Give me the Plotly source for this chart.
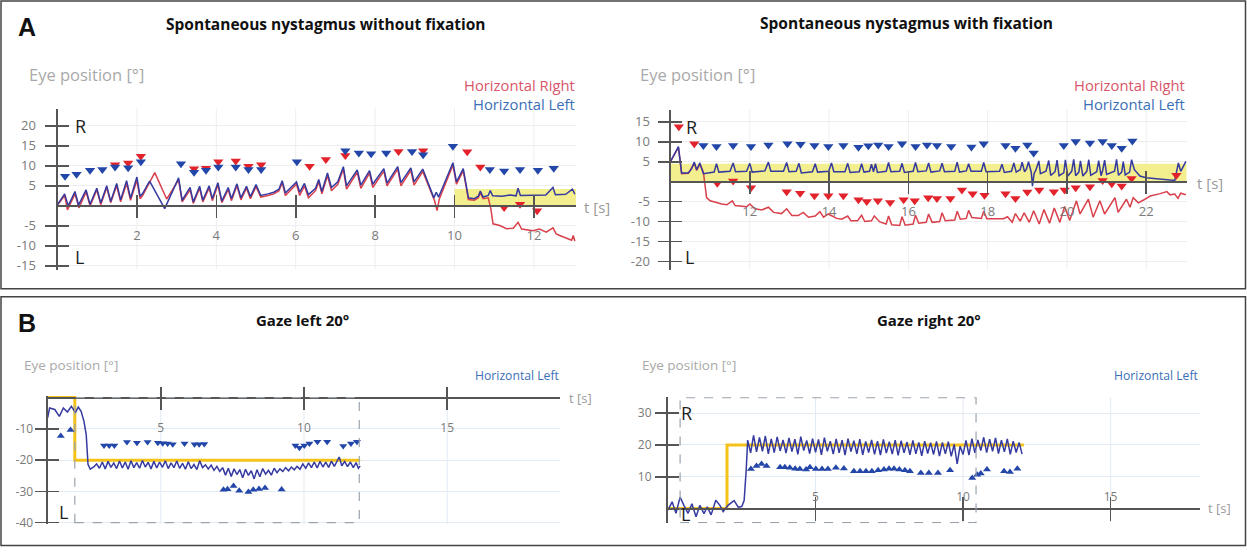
import plotly.graph_objects as go

W, H = 1247, 554

# ---------------- data: (time [s], eye position [deg]) ----------------
a1_right_line = [(0.00,0.2),(0.18,2.6),(0.25,-1.0),(0.44,3.0),(0.54,-0.5),(0.72,3.5),(0.82,0.0),(0.99,4.0),(1.09,0.3),(1.24,4.6),(1.34,0.8),(1.49,5.0),(1.59,1.0),(1.74,5.6),(1.84,1.4),(2.00,6.4),(2.08,1.8),(2.14,2.5),(2.45,8.3),(2.75,1.7),(3.05,6.5),(3.14,1.0),(3.34,4.0),(3.42,0.6),(3.58,4.4),(3.66,1.0),(3.82,4.5),(3.90,1.3),(4.04,5.2),(4.14,0.8),(4.30,4.1),(4.38,1.3),(4.52,5.0),(4.62,1.5),(4.76,4.4),(4.86,1.8),(5.00,4.8),(5.12,2.2),(5.30,2.6),(5.45,3.0),(5.58,3.8),(5.66,5.8),(5.74,2.6),(5.90,4.2),(6.02,5.4),(6.10,2.6),(6.22,5.0),(6.32,2.0),(6.50,3.8),(6.58,6.0),(6.66,3.0),(6.80,7.6),(6.90,3.8),(7.06,5.4),(7.20,9.2),(7.28,4.2),(7.55,8.4),(7.64,4.4),(7.86,8.2),(7.94,4.6),(8.22,8.7),(8.30,5.0),(8.57,9.2),(8.65,5.0),(8.90,8.9),(8.98,5.2),(9.20,8.6),(9.50,1.2),(9.56,-1.2),(9.62,1.8),(9.96,10.2),(10.05,5.4),(10.22,8.8),(10.35,1.6),(10.50,1.4),(10.60,2.0),(10.65,3.3),(10.72,1.8),(10.85,2.0),(10.92,-1.0),(10.97,-4.5),(11.14,-4.9),(11.31,-5.7),(11.48,-5.6),(11.60,-4.1),(11.69,-5.8),(11.98,-6.2),(12.14,-5.8),(12.31,-6.6),(12.48,-5.5),(12.56,-7.0),(12.65,-7.4),(12.82,-8.0),(12.95,-8.6),(12.99,-7.4),(13.03,-8.8)]
a1_left_line = [(0.00,0.3),(0.18,3.0),(0.27,0.0),(0.44,3.6),(0.53,0.2),(0.72,4.0),(0.82,0.4),(0.99,4.4),(1.09,0.7),(1.24,5.0),(1.34,1.1),(1.49,5.6),(1.59,1.5),(1.74,6.3),(1.84,1.9),(2.00,7.2),(2.08,2.4),(2.14,3.0),(2.32,6.2),(2.70,-0.7),(3.05,7.0),(3.14,1.4),(3.34,4.6),(3.42,1.0),(3.58,4.9),(3.66,1.4),(3.82,5.0),(3.90,1.8),(4.04,5.8),(4.14,1.2),(4.30,4.6),(4.38,1.8),(4.52,5.5),(4.62,2.0),(4.76,4.9),(4.86,2.3),(5.00,5.3),(5.12,2.6),(5.30,3.0),(5.45,3.4),(5.58,4.2),(5.66,6.3),(5.74,3.2),(5.90,4.8),(6.02,6.0),(6.10,3.4),(6.22,5.6),(6.32,2.8),(6.50,4.4),(6.58,6.6),(6.66,3.6),(6.80,8.2),(6.90,4.6),(7.06,6.0),(7.20,9.8),(7.28,5.0),(7.55,9.0),(7.64,5.2),(7.86,8.8),(7.94,5.4),(8.22,9.3),(8.30,5.7),(8.57,9.8),(8.65,5.8),(8.90,9.5),(8.98,6.0),(9.20,9.2),(9.48,2.0),(9.54,3.4),(9.60,2.2),(9.96,10.8),(10.05,6.0),(10.22,9.3),(10.35,2.0),(10.50,1.8),(10.60,2.4),(10.65,3.7),(10.72,2.2),(10.85,2.6),(10.90,3.8),(10.96,2.5),(11.20,2.4),(11.40,2.7),(11.55,2.5),(11.60,4.4),(11.66,2.6),(11.95,2.7),(12.05,2.6),(12.30,2.7),(12.48,4.6),(12.54,2.8),(12.80,2.9),(12.97,4.2),(13.03,2.9)]
a1_right_marks = [(1.45,10.3),(1.78,10.7),(2.10,12.4),(3.44,9.3),(3.74,9.4),(4.05,11.0),(4.49,11.2),(4.81,9.9),(5.13,10.3),(6.35,9.9),(6.76,11.6),(7.25,12.6),(8.59,13.6),(9.21,13.8),(10.32,13.5),(10.65,9.7),(11.25,-0.4),(11.65,0.4),(12.08,-1.2)]
a1_left_marks = [(0.19,7.4),(0.48,7.9),(0.82,8.9),(1.13,9.1),(1.45,9.7),(1.78,9.5),(2.10,11.0),(3.11,10.5),(3.44,8.4),(3.74,8.9),(4.05,9.7),(4.49,9.7),(4.81,9.1),(5.13,9.1),(6.03,11.0),(7.25,13.8),(7.59,13.2),(7.90,13.0),(8.28,13.2),(8.93,13.6),(9.21,12.8),(9.96,14.9),(10.89,9.1),(11.25,8.7),(11.65,9.1),(12.10,8.9),(12.50,9.4)]

a2_right_line = [(10.00,5.0),(10.20,8.6),(10.28,2.0),(10.45,2.1),(10.60,4.6),(10.66,2.8),(10.74,4.4),(10.83,2.4),(10.91,-4.0),(11.00,-4.8),(11.16,-5.2),(11.29,-5.6),(11.42,-5.8),(11.56,-4.8),(11.63,-6.0),(11.80,-6.1),(11.92,-6.3),(12.00,-5.6),(12.13,-6.8),(12.30,-7.1),(12.47,-6.4),(12.60,-7.7),(12.80,-8.0),(12.93,-6.8),(13.06,-8.5),(13.22,-8.5),(13.35,-7.7),(13.48,-8.9),(13.65,-8.6),(13.77,-7.5),(13.86,-8.9),(13.98,-8.1),(14.06,-8.5),(14.19,-9.2),(14.32,-9.4),(14.47,-8.6),(14.55,-9.8),(14.72,-9.8),(14.82,-8.4),(14.90,-10.0),(15.07,-9.8),(15.14,-8.6),(15.28,-10.1),(15.44,-10.6),(15.50,-8.6),(15.58,-10.8),(15.78,-11.0),(15.84,-8.8),(15.92,-10.9),(16.12,-10.6),(16.18,-8.4),(16.26,-10.4),(16.45,-10.2),(16.51,-8.1),(16.60,-10.2),(16.79,-10.0),(16.85,-7.8),(16.93,-9.8),(17.17,-9.6),(17.23,-7.4),(17.31,-9.4),(17.46,-9.2),(17.52,-7.2),(17.60,-9.0),(17.84,-9.2),(17.90,-7.4),(17.98,-9.3),(18.40,-9.3),(18.50,-8.8),(18.62,-10.2),(18.70,-8.0),(18.82,-9.9),(18.92,-7.8),(19.05,-10.2),(19.16,-7.3),(19.30,-10.6),(19.42,-7.0),(19.56,-10.4),(19.68,-6.6),(19.82,-10.2),(19.94,-6.2),(20.07,-9.7),(20.24,-4.8),(20.33,-8.1),(20.54,-4.4),(20.66,-8.9),(20.83,-4.8),(20.95,-8.1),(21.21,-4.0),(21.29,-7.7),(21.50,-4.4),(21.59,-6.4),(21.67,-4.0),(21.80,-5.3),(21.93,-4.6),(22.10,-3.6),(22.35,-3.0),(22.52,-2.5),(22.60,-3.3),(22.72,-3.1),(22.80,-4.2),(22.87,-2.9),(23.00,-3.3)]
a2_left_line = [(10.00,5.1),(10.20,8.8),(10.28,2.2),(10.45,2.2),(10.53,3.2),(10.60,4.9),(10.66,3.0),(10.74,4.7),(10.83,2.0),(10.95,2.2),(11.10,2.4),(11.16,4.5),(11.22,2.4),(11.50,2.6),(11.58,4.7),(11.64,2.5),(11.92,2.6),(12.00,4.6),(12.06,2.4),(12.38,2.7),(12.47,4.9),(12.53,2.6),(12.85,2.6),(12.93,4.8),(12.99,2.5),(13.17,2.6),(13.24,4.6),(13.30,2.2),(13.58,2.5),(13.65,4.5),(13.71,2.4),(13.99,2.6),(14.06,4.7),(14.12,2.5),(14.40,2.5),(14.47,4.6),(14.53,2.3),(14.76,2.5),(14.82,4.5),(14.88,2.4),(15.02,2.6),(15.07,4.4),(15.12,2.5),(15.17,4.5),(15.22,2.3),(15.44,2.6),(15.50,4.8),(15.56,2.5),(15.78,2.6),(15.84,4.6),(15.90,2.3),(16.12,2.6),(16.18,4.8),(16.24,2.5),(16.45,2.7),(16.51,4.7),(16.57,2.4),(16.79,2.7),(16.85,4.6),(16.91,2.5),(17.17,2.6),(17.23,4.9),(17.29,2.4),(17.46,2.7),(17.52,4.5),(17.58,2.6),(17.84,2.6),(17.90,4.8),(17.96,2.5),(18.30,2.6),(18.36,4.4),(18.42,2.3),(18.60,2.6),(18.66,4.7),(18.72,2.4),(18.82,3.0),(18.87,4.9),(18.93,2.5),(18.98,3.2),(19.03,5.0),(19.10,2.3),(19.13,-1.1),(19.17,2.0),(19.22,3.0),(19.29,5.2),(19.33,2.0),(19.47,2.6),(19.54,5.3),(19.59,1.6),(19.70,2.5),(19.75,5.4),(19.80,1.5),(19.92,2.2),(19.96,5.5),(20.02,1.4),(20.12,2.6),(20.17,5.6),(20.22,1.5),(20.30,2.4),(20.34,5.2),(20.40,1.4),(20.50,2.6),(20.55,5.5),(20.60,1.6),(20.75,2.5),(20.80,5.3),(20.86,1.5),(20.90,2.8),(20.95,5.4),(21.00,1.8),(21.20,2.6),(21.25,5.6),(21.30,1.6),(21.38,2.4),(21.42,5.0),(21.47,1.7),(21.58,2.4),(21.63,5.5),(21.70,3.0),(21.84,1.4),(22.00,1.0),(22.72,0.3),(22.81,4.7),(22.87,2.6),(23.00,5.1)]
a2_right_marks = [(10.21,13.8),(10.60,9.5),(11.18,-0.4),(11.58,0.2),(12.03,-1.5),(12.93,-2.5),(13.27,-2.9),(13.63,-3.5),(13.98,-3.5),(14.36,-3.5),(14.74,-4.5),(14.95,-5.0),(15.23,-4.8),(15.54,-5.2),(15.88,-4.5),(16.16,-4.8),(16.50,-4.0),(16.72,-4.2),(17.06,-4.2),(17.35,-2.1),(17.62,-3.0),(17.92,-3.4),(18.45,-3.0),(18.70,-4.2),(19.00,-2.6),(19.30,-2.1),(19.67,-2.5),(19.94,-2.1),(20.22,-1.5),(20.58,-1.3),(20.90,0.3),(21.13,-0.5),(21.38,-1.1),(21.63,0.8),(22.76,1.6)]
a2_left_marks = [(10.83,9.1),(11.16,8.8),(11.58,9.1),(12.03,8.8),(12.47,9.2),(12.95,9.5),(13.28,9.4),(13.63,9.1),(13.98,8.8),(14.36,9.1),(14.74,8.6),(14.99,9.0),(15.24,9.2),(15.50,8.8),(15.84,9.5),(16.18,8.8),(16.47,9.2),(16.72,9.1),(17.08,8.8),(17.59,8.7),(17.90,9.5),(18.45,9.1),(18.70,8.4),(19.00,9.2),(19.16,7.2),(19.92,9.1),(20.22,10.1),(20.58,9.7),(20.90,10.1),(21.13,9.1),(21.38,8.4),(21.65,10.2)]

b1_target = [(1.05,0.0),(2.00,0.0),(2.00,-20.0),(11.96,-20.0)]
b1_left_line = [(1.05,-6.5),(1.12,-3.3),(1.30,-3.8),(1.46,-6.0),(1.60,-3.3),(1.74,-4.6),(1.88,-2.8),(2.02,-4.8),(2.12,-3.0),(2.22,-4.4),(2.32,-7.6),(2.40,-12.0),(2.46,-21.3),(2.54,-22.9),(2.66,-22.2),(2.76,-21.2),(2.86,-22.6),(2.96,-20.6),(3.06,-22.8),(3.16,-20.4),(3.26,-22.3),(3.36,-20.9),(3.46,-22.7),(3.56,-20.3),(3.66,-22.5),(3.76,-20.6),(3.86,-22.9),(3.96,-20.2),(4.06,-22.4),(4.16,-20.8),(4.26,-22.6),(4.36,-20.1),(4.46,-22.2),(4.56,-20.7),(4.66,-22.8),(4.76,-20.4),(4.86,-22.5),(4.96,-20.6),(5.06,-22.3),(5.16,-20.2),(5.26,-22.7),(5.36,-20.9),(5.46,-22.4),(5.56,-20.3),(5.66,-22.6),(5.76,-21.0),(5.86,-22.9),(5.96,-20.5),(6.06,-22.7),(6.16,-21.4),(6.26,-23.0),(6.36,-20.2),(6.46,-22.4),(6.56,-21.5),(6.66,-22.8),(6.76,-21.6),(6.86,-23.3),(6.96,-22.0),(7.06,-23.6),(7.16,-22.4),(7.26,-24.8),(7.36,-22.6),(7.46,-25.2),(7.56,-22.8),(7.66,-24.6),(7.76,-23.0),(7.86,-25.6),(7.96,-22.9),(8.06,-24.9),(8.16,-23.4),(8.26,-26.0),(8.36,-23.1),(8.46,-25.3),(8.56,-22.7),(8.66,-24.5),(8.76,-23.3),(8.86,-24.8),(8.96,-22.6),(9.06,-24.0),(9.16,-22.8),(9.26,-23.6),(9.36,-22.4),(9.46,-23.4),(9.56,-22.2),(9.66,-23.1),(9.76,-22.0),(9.86,-22.9),(9.96,-21.2),(10.06,-22.6),(10.16,-20.9),(10.26,-22.4),(10.36,-20.6),(10.46,-22.5),(10.56,-20.4),(10.66,-22.2),(10.76,-20.6),(10.86,-22.3),(10.96,-20.3),(11.06,-22.0),(11.16,-20.2),(11.23,-19.0),(11.32,-21.8),(11.42,-20.4),(11.52,-22.1),(11.62,-20.6),(11.72,-22.4),(11.82,-20.8),(11.90,-22.6),(11.96,-21.9)]
b1_marks_down = [(3.02,-15.3),(3.20,-15.3),(3.38,-15.3),(3.82,-14.2),(4.17,-14.4),(4.54,-14.2),(4.90,-14.4),(5.07,-14.6),(5.24,-14.7),(5.42,-14.9),(5.83,-14.7),(6.18,-14.9),(6.34,-14.9),(6.52,-14.8),(9.70,-15.3),(9.84,-16.0),(10.01,-15.3),(10.19,-14.7),(10.47,-14.1),(10.81,-14.1),(11.37,-15.5),(11.64,-14.7),(11.85,-14.1)]
b1_marks_up = [(1.51,-12.3),(1.85,-10.4),(7.19,-29.5),(7.33,-29.3),(7.54,-28.3),(7.74,-29.8),(8.06,-30.2),(8.23,-29.5),(8.43,-29.2),(8.64,-28.9),(9.22,-29.4)]

b2_target = [(0.00,0.0),(2.00,0.0),(2.00,20.0),(12.06,20.0)]
b2_left_line = [(0.00,-0.5),(0.14,2.1),(0.27,-1.5),(0.41,3.6),(0.54,1.0),(0.68,-1.5),(0.81,1.5),(0.95,-2.6),(1.08,1.0),(1.22,-1.6),(1.33,0.5),(1.46,-2.0),(1.62,2.6),(1.76,1.0),(1.87,-1.0),(2.03,1.0),(2.24,2.5),(2.38,0.4),(2.50,0.6),(2.58,2.5),(2.65,12.0),(2.70,21.5),(2.80,17.5),(2.90,23.0),(3.00,17.8),(3.10,22.4),(3.20,18.0),(3.30,22.8),(3.40,17.2),(3.50,21.9),(3.60,17.6),(3.70,22.5),(3.80,18.1),(3.90,21.6),(4.00,17.4),(4.10,22.2),(4.20,17.9),(4.30,21.8),(4.40,17.0),(4.50,22.6),(4.60,18.2),(4.70,21.4),(4.80,17.3),(4.90,22.0),(5.00,17.7),(5.10,21.7),(5.20,16.9),(5.30,22.3),(5.40,18.0),(5.50,21.2),(5.60,17.1),(5.70,21.9),(5.80,17.5),(5.90,21.5),(6.00,16.8),(6.10,22.0),(6.20,17.9),(6.30,21.3),(6.40,17.2),(6.50,21.8),(6.60,16.9),(6.70,21.1),(6.80,17.6),(6.90,21.6),(7.00,17.0),(7.10,21.2),(7.20,16.8),(7.30,21.7),(7.40,17.4),(7.50,21.0),(7.60,17.1),(7.70,21.5),(7.80,16.7),(7.90,21.3),(8.00,17.5),(8.10,20.9),(8.20,16.9),(8.30,21.4),(8.40,17.2),(8.50,20.8),(8.60,16.6),(8.70,21.2),(8.80,17.3),(8.90,20.7),(9.00,17.0),(9.10,21.1),(9.20,16.5),(9.30,20.8),(9.40,17.2),(9.50,21.0),(9.60,16.4),(9.70,20.2),(9.80,14.0),(9.90,19.6),(10.00,17.0),(10.10,21.4),(10.20,16.8),(10.30,22.0),(10.40,17.5),(10.50,21.6),(10.60,18.2),(10.70,22.4),(10.80,17.6),(10.90,21.8),(11.00,18.0),(11.10,22.2),(11.20,17.3),(11.30,21.5),(11.40,17.8),(11.50,21.9),(11.60,17.0),(11.70,21.2),(11.80,17.6),(11.90,20.8),(12.00,17.1)]
b2_marks_up = [(2.81,12.4),(3.00,13.4),(3.17,14.0),(3.34,13.4),(3.80,13.0),(3.96,13.0),(4.13,12.8),(4.31,12.5),(4.47,12.4),(4.68,12.3),(4.81,13.0),(5.01,12.4),(5.22,12.4),(5.42,12.4),(5.69,12.8),(5.96,12.6),(6.30,11.7),(6.51,11.7),(6.71,11.7),(6.91,11.7),(7.12,12.0),(7.32,12.3),(7.49,12.5),(7.66,12.5),(7.84,12.3),(8.03,12.0),(8.20,11.7),(8.57,11.2),(8.84,11.2),(9.15,11.2),(9.56,12.0),(10.31,9.6),(10.48,10.6),(10.60,11.0),(10.81,12.3),(11.39,11.7),(11.59,11.5),(11.84,12.5)]

a1_xticks = [2, 4, 6, 8, 10, 12]
a1_yticks = [-15, -10, -5, 5, 10, 15, 20]
a2_xticks = [12, 14, 16, 18, 20, 22]
a2_yticks = [-20, -15, -10, -5, 5, 10, 15]
b1_xticks = [5, 10, 15]
b1_yticks = [-40, -30, -20, -10]
b2_xticks = [5, 10, 15]
b2_yticks = [10, 20, 30]

# ---------------- styling ----------------
RED_LINE = "#d8404b"
RED_MARK = "#e3232b"
BLUE_LINE = "#353a9f"
BLUE_MARK = "#2347a8"
BAND = "#f3ee8e"
TARGET = "#f5c21a"
AXIS = "#555555"
TICKTXT = "#7a7a7a"
FONT = "Open Sans"

# panel geometry in window pixels: x pixel span <-> x range, y pixel span (top,bottom) <-> y range (top,bottom)
panels = [
    dict(xpx=(57.5, 576.0), xr=(0, 13.06), ypx=(110, 273), yr=(24.32, -15.93), xt=a1_xticks, yt=a1_yticks,
         side="bottom", fs=13, xstand=7, ystand=6, grid="#eeeeee", gdx=2),
    dict(xpx=(670.5, 1186.7), xr=(10, 23.02), ypx=(111, 273), yr=(18.07, -22.03), xt=a2_xticks, yt=a2_yticks,
         side="bottom", fs=13, xstand=7, ystand=5, grid="#eeeeee", gdx=2),
    dict(xpx=(47.6, 559.5), xr=(1.05, 18.92), ypx=(400.8, 530.6), yr=(0.6, -40.4), xt=b1_xticks, yt=b1_yticks,
         side="bottom", fs=12, xstand=8, ystand=-1, grid="#e2eaf4", gdx=5),
    dict(xpx=(668, 1200), xr=(0, 18.03), ypx=(402.3, 530), yr=(35.0, -4.65), xt=b2_xticks, yt=b2_yticks,
         side="top", fs=12, xstand=-9, ystand=1, grid="#e2eaf4", gdx=5),
]


def name(prefix, n):
    return prefix + ("" if n == 1 else str(n))


def labels(vals):
    # plain hyphen-minus, as in the original software output
    return ["%d" % v for v in vals]


layout = dict(width=W, height=H, margin=dict(l=0, r=0, t=0, b=0), paper_bgcolor="white",
              plot_bgcolor="white", showlegend=False, hovermode=False)
for i, p in enumerate(panels):
    m, o = 2 * i + 1, 2 * i + 2
    xd = [p["xpx"][0] / W, p["xpx"][1] / W]
    yd = [1 - p["ypx"][1] / H, 1 - p["ypx"][0] / H]
    ytop, ybot = p["yr"]
    pos0 = yd[0] + (0 - ybot) / (ytop - ybot) * (yd[1] - yd[0])
    tickfont = dict(family=FONT, size=p["fs"], color=TICKTXT)
    layout[name("xaxis", m)] = dict(
        domain=xd, range=list(p["xr"]), anchor="free", position=pos0, side=p["side"],
        showline=True, linecolor=AXIS, linewidth=2, ticks="outside", ticklen=11, tickwidth=1.6,
        tickcolor=AXIS, tickmode="array", tickvals=p["xt"], ticktext=labels(p["xt"]), tickfont=tickfont,
        ticklabelstandoff=p["xstand"], showgrid=False, zeroline=False, fixedrange=True)
    layout[name("xaxis", o)] = dict(
        overlaying=name("x", m), range=list(p["xr"]), anchor="free", position=pos0, side=p["side"],
        showline=False, ticks="inside", ticklen=11, tickwidth=1.6, tickcolor=AXIS,
        tickmode="array", tickvals=p["xt"], showticklabels=False, showgrid=False, zeroline=False,
        fixedrange=True)
    layout[name("yaxis", m)] = dict(
        domain=yd, range=[ybot, ytop], anchor=name("x", m), side="left",
        showline=True, linecolor=AXIS, linewidth=2, ticks="outside", ticklen=11, tickwidth=1.6,
        tickcolor=AXIS, tickmode="array", tickvals=p["yt"], ticktext=labels(p["yt"]), tickfont=tickfont,
        ticklabelstandoff=p["ystand"], showgrid=True, gridcolor=p["grid"], gridwidth=1,
        zeroline=False, fixedrange=True)
    layout[name("yaxis", o)] = dict(
        overlaying=name("y", m), range=[ybot, ytop], anchor=name("x", m), side="left",
        showline=False, ticks="inside", ticklen=11, tickwidth=1.6, tickcolor=AXIS,
        tickmode="array", tickvals=p["yt"], showticklabels=False, showgrid=False, zeroline=False,
        fixedrange=True)

fig = go.Figure()


def xs(pts):
    return [a for a, b in pts]


def ys(pts):
    return [b for a, b in pts]


def line(pts, color, width, panel):
    n = 2 * panel + 1
    fig.add_trace(go.Scatter(x=xs(pts), y=ys(pts), mode="lines", line=dict(color=color, width=width),
                             xaxis=name("x", n), yaxis=name("y", n), hoverinfo="skip"))


def marks(pts, color, symbol, size, panel):
    n = 2 * panel + 1
    fig.add_trace(go.Scatter(x=xs(pts), y=ys(pts), mode="markers", cliponaxis=False,
                             marker=dict(color=color, symbol=symbol, size=size, line=dict(width=0)),
                             xaxis=name("x", n), yaxis=name("y", n), hoverinfo="skip"))


shapes = []
# faint vertical gridlines
for i, p in enumerate(panels):
    n = 2 * i + 1
    g = p["gdx"]
    v = g * (int(p["xr"][0] // g) + 1)
    while v < p["xr"][1]:
        shapes.append(dict(type="line", xref=name("x", n), yref=name("y", n) + " domain", x0=v, x1=v,
                           y0=0, y1=1, line=dict(color=p["grid"], width=1), layer="below"))
        v += g

# yellow fixation bands (panel A)
shapes.append(dict(type="rect", xref="x", yref="y", x0=10, x1=13.06, y0=0, y1=4.2,
                   fillcolor=BAND, line=dict(width=0), layer="between"))
shapes.append(dict(type="rect", xref="x3", yref="y3", x0=10, x1=23.02, y0=0, y1=4.5,
                   fillcolor=BAND, line=dict(width=0), layer="between"))
# dashed analysis windows (panel B)
shapes.append(dict(type="rect", xref="x5", yref="y5", x0=2.0, x1=11.93, y0=-40, y1=0,
                   line=dict(color="#9aa3ad", width=1.2, dash="dash"), layer="above"))
shapes.append(dict(type="rect", xref="x7", yref="y7", x0=0.41, x1=10.44, y0=-4.45, y1=34.9,
                   line=dict(color="#9aa3ad", width=1.2, dash="dash"), layer="above"))
# panel frames
shapes.append(dict(type="rect", xref="paper", yref="paper", x0=1 / W, x1=1245.5 / W,
                   y0=1 - 292.5 / H, y1=1 - 1 / H, line=dict(color="#444444", width=1.5)))
shapes.append(dict(type="rect", xref="paper", yref="paper", x0=1 / W, x1=1245.5 / W,
                   y0=1 - 552.5 / H, y1=1 - 300.5 / H, line=dict(color="#444444", width=1.5)))

# ---- panel A1
line(a1_right_line, RED_LINE, 1.5, 0)
line(a1_left_line, BLUE_LINE, 1.5, 0)
marks(a1_right_marks, RED_MARK, "triangle-down", 9, 0)
marks(a1_left_marks, BLUE_MARK, "triangle-down", 9, 0)
# ---- panel A2
line(a2_right_line, RED_LINE, 1.5, 1)
line(a2_left_line, BLUE_LINE, 1.5, 1)
marks(a2_right_marks, RED_MARK, "triangle-down", 9, 1)
marks(a2_left_marks, BLUE_MARK, "triangle-down", 9, 1)
# ---- panel B1
line(b1_target, TARGET, 3, 2)
line(b1_left_line, BLUE_LINE, 1.5, 2)
marks(b1_marks_down, BLUE_MARK, "triangle-down", 7, 2)
marks(b1_marks_up, BLUE_MARK, "triangle-up", 7, 2)
# ---- panel B2
line(b2_target, TARGET, 3, 3)
line(b2_left_line, BLUE_LINE, 1.5, 3)
marks(b2_marks_up, BLUE_MARK, "triangle-up", 7, 3)

# dummy traces so the overlay (inner tick) axes are drawn
for i in range(4):
    o = 2 * i + 2
    fig.add_trace(go.Scatter(x=[None], y=[None], xaxis=name("x", o), yaxis=name("y", o),
                             mode="lines", hoverinfo="skip"))

ann = []


def text(s, xp, yp, size, color, bold=False, anchor="center", family=FONT):
    ann.append(dict(text=("<b>%s</b>" % s) if bold else s, x=xp / W, y=1 - yp / H, xref="paper",
                    yref="paper", xanchor=anchor, yanchor="middle", showarrow=False,
                    font=dict(family=family, size=size, color=color)))


def dtext(s, x, y, panel, size=18):
    n = 2 * panel + 1
    ann.append(dict(text=s, x=x, y=y, xref=name("x", n), yref=name("y", n), showarrow=False,
                    xanchor="center", yanchor="middle", font=dict(family=FONT, size=size, color="#1e1e1e")))


text("A", 27, 27.5, 25, "#111111", True, family="Liberation Sans")
text("B", 27, 327, 25, "#111111", True, family="Liberation Sans")
text("Spontaneous nystagmus without fixation", 326, 24, 15.5, "#111111", True)
text("Spontaneous nystagmus with fixation", 907, 23.5, 15.5, "#111111", True)
text("Gaze left 20°", 302.6, 324.5, 15, "#111111", True)
text("Gaze right 20°", 929, 324.5, 15, "#111111", True)
text("Eye position [°]", 27, 75, 16.5, "#a9a9a9", anchor="left")
text("Eye position [°]", 638, 75, 16.5, "#a9a9a9", anchor="left")
text("Eye position [°]", 22, 370, 13.5, "#a9a9a9", anchor="left")
text("Eye position [°]", 640, 370, 13.5, "#a9a9a9", anchor="left")
text("Horizontal Right", 577, 86.5, 14.8, "#d9566a", anchor="right")
text("Horizontal Left", 577, 105, 14.8, "#3d6fb7", anchor="right")
text("Horizontal Right", 1187, 86.5, 14.8, "#d9566a", anchor="right")
text("Horizontal Left", 1187, 105, 14.8, "#3d6fb7", anchor="right")
text("Horizontal Left", 561.5, 380, 12.2, "#3d6fb7", anchor="right")
text("Horizontal Left", 1201, 380, 12.2, "#3d6fb7", anchor="right")
text("t [s]", 597, 210, 15, "#9a9a9a")
text("t [s]", 1210, 185, 15, "#9a9a9a")
text("t [s]", 580, 403, 13, "#9a9a9a")
text("t [s]", 1219, 515, 13, "#9a9a9a")
dtext("R", 0.58, 20.0, 0)
dtext("L", 0.55, -12.7, 0)
dtext("R", 10.53, 13.8, 1)
dtext("L", 10.49, -18.8, 1)
dtext("L", 1.6, -36.5, 2)
dtext("R", 0.64, 30.0, 3)
dtext("L", 0.58, -1.6, 3)

layout["shapes"] = shapes
layout["annotations"] = ann
fig.update_layout(**layout)
fig.write_html("out.html", config={"displayModeBar": False, "staticPlot": True},
               post_script="document.body.style.margin='0px';document.body.style.overflow='hidden';")
